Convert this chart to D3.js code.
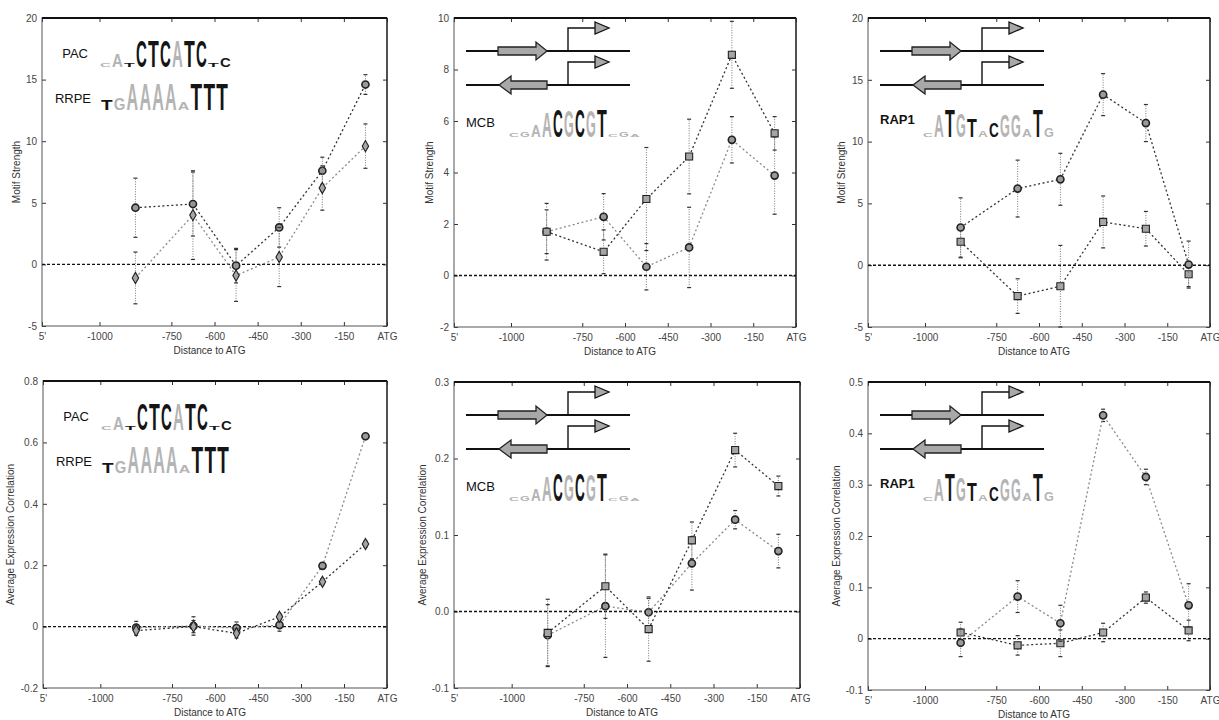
<!DOCTYPE html>
<html>
<head>
<meta charset="utf-8">
<script src="https://cdn.jsdelivr.net/npm/d3@7"></script>
<style>
    body { margin: 0; background: #fff; }
    svg { font-family: "Liberation Sans", Arial, sans-serif; }
    .axis text { fill: #444; font-size: 10px; }
    .axis line { stroke: #333; }
    .axis path { display: none; }
    .title { fill: #333; font-size: 10px; }
</style>
</head>
<body>
<svg id="fig" width="1219" height="720"></svg>
<script>
// Posições dos pontos (centro de cada janela de distância ao ATG)
const xPos = [-875, -675, -525, -375, -225, -75]
const xTicks = [-1200, -1000, -750, -600, -450, -300, -150, 0]
const xTickLabels = ["5'", "-1000", "-750", "-600", "-450", "-300", "-150", "ATG"]

// PAC / RRPE - força do motivo
const pacStrength = [4.6, 4.9, -0.1, 3.0, 7.6, 14.6]
const pacStrengthErr = [2.4, 2.6, 1.4, 1.6, 1.1, 0.8]
const rrpeStrength = [-1.1, 4.0, -0.9, 0.6, 6.2, 9.6]
const rrpeStrengthErr = [2.1, 3.6, 2.1, 2.4, 1.8, 1.8]

// MCB - força do motivo
const mcbSquareStrength = [1.7, 0.92, 2.97, 4.62, 8.57, 5.52]
const mcbSquareStrengthErr = [1.1, 0.85, 2.0, 1.45, 1.3, 0.65]
const mcbCircleStrength = [1.7, 2.28, 0.34, 1.09, 5.27, 3.88]
const mcbCircleStrengthErr = [0.85, 0.9, 0.9, 1.56, 0.9, 1.5]

// RAP1 - força do motivo
const rap1CircleStrength = [3.05, 6.2, 6.95, 13.8, 11.5, 0.05]
const rap1CircleStrengthErr = [2.4, 2.3, 2.1, 1.7, 1.5, 1.9]
const rap1SquareStrength = [1.9, -2.5, -1.7, 3.5, 2.95, -0.73]
const rap1SquareStrengthErr = [1.3, 1.4, 3.3, 2.1, 1.4, 1.0]

// PAC / RRPE - correlação média de expressão
const pacCorr = [-0.003, 0.002, -0.005, 0.005, 0.198, 0.62]
const pacCorrErr = [0.02, 0.03, 0.02, 0.02, 0.008, 0.008]
const rrpeCorr = [-0.013, 0.0, -0.022, 0.032, 0.146, 0.269]
const rrpeCorrErr = [0.015, 0.02, 0.015, 0.01, 0.01, 0.01]

// MCB - correlação média de expressão
const mcbSquareCorr = [-0.028, 0.033, -0.023, 0.093, 0.211, 0.164]
const mcbSquareCorrErr = [0.044, 0.042, 0.042, 0.024, 0.022, 0.013]
const mcbCircleCorr = [-0.031, 0.007, -0.001, 0.063, 0.12, 0.079]
const mcbCircleCorrErr = [0.04, 0.067, 0.018, 0.035, 0.012, 0.022]

// RAP1 - correlação média de expressão
const rap1CircleCorr = [-0.008, 0.082, 0.03, 0.435, 0.315, 0.065]
const rap1CircleCorrErr = [0.027, 0.031, 0.035, 0.012, 0.015, 0.042]
const rap1SquareCorr = [0.012, -0.013, -0.009, 0.012, 0.08, 0.016]
const rap1SquareCorrErr = [0.02, 0.019, 0.026, 0.018, 0.011, 0.02]

// Marcas dos eixos Y
const yTicksStrength = [-5, 0, 5, 10, 15, 20]
const yTicksMcbStrength = [-2, 0, 2, 4, 6, 8, 10]
const yTicksCorrPac = [-0.2, 0, 0.2, 0.4, 0.6, 0.8]
const yLabelsCorrPac = ["-0.2", "0", "0.2", "0.4", "0.6", "0.8"]
const yTicksCorrMcb = [-0.1, 0, 0.1, 0.2, 0.3]
const yLabelsCorrMcb = ["-0.1", "0.0", "0.1", "0.2", "0.3"]
const yTicksCorrRap1 = [-0.1, 0, 0.1, 0.2, 0.3, 0.4, 0.5]
const yLabelsCorrRap1 = ["-0.1", "0", "0.1", "0.2", "0.3", "0.4", "0.5"]

// Logos de sequência: [letra, altura relativa, tom]
const pacLogo = [["C", 0.12, "g"], ["A", 0.5, "g"], ["T", 0.12, "k"], ["C", 1, "k"], ["T", 1, "k"], ["C", 1, "k"],
    ["A", 1, "g"], ["T", 1, "k"], ["C", 1, "k"], ["T", 0.15, "k"], ["C", 0.35, "k"]]
const rrpeLogo = [["T", 0.4, "k"], ["G", 0.45, "g"], ["A", 1, "g"], ["A", 1, "g"], ["A", 1, "g"], ["A", 1, "g"],
    ["A", 0.3, "g"], ["T", 1, "k"], ["T", 1, "k"], ["T", 1, "k"]]
const mcbLogo = [["C", 0.12, "g"], ["G", 0.2, "g"], ["A", 0.4, "g"], ["A", 0.9, "g"], ["C", 1, "k"], ["G", 0.95, "g"],
    ["C", 1, "k"], ["G", 0.95, "g"], ["T", 1, "k"], ["C", 0.08, "g"], ["G", 0.2, "g"], ["A", 0.1, "g"]]
const rap1Logo = [["C", 0.15, "g"], ["A", 0.8, "g"], ["T", 1, "k"], ["G", 0.85, "g"], ["T", 0.65, "k"], ["A", 0.25, "g"],
    ["C", 0.5, "k"], ["G", 0.8, "g"], ["G", 0.8, "g"], ["A", 0.3, "g"], ["T", 1, "k"], ["G", 0.35, "g"]]

const panels = [
    { box: [42, 18, 387, 326], yDomain: [-5, 20], yTicks: yTicksStrength, yLabels: null, yTitle: "Motif Strength", titleGap: 22,
      inset: "pacRrpe",
      series: [
          { values: pacStrength, errors: pacStrengthErr, marker: "circle", dark: true },
          { values: rrpeStrength, errors: rrpeStrengthErr, marker: "diamond", dark: false }] },
    { box: [454, 18, 796, 327], yDomain: [-2, 10], yTicks: yTicksMcbStrength, yLabels: null, yTitle: "Motif Strength", titleGap: 21,
      inset: "mcb",
      series: [
          { values: mcbCircleStrength, errors: mcbCircleStrengthErr, marker: "circle", dark: false },
          { values: mcbSquareStrength, errors: mcbSquareStrengthErr, marker: "square", dark: true }] },
    { box: [868, 18, 1210, 327], yDomain: [-5, 20], yTicks: yTicksStrength, yLabels: null, yTitle: "Motif Strength", titleGap: 23,
      inset: "rap1",
      series: [
          { values: rap1SquareStrength, errors: rap1SquareStrengthErr, marker: "square", dark: true },
          { values: rap1CircleStrength, errors: rap1CircleStrengthErr, marker: "circle", dark: true }] },
    { box: [43, 381, 387, 688], yDomain: [-0.2, 0.8], yTicks: yTicksCorrPac, yLabels: yLabelsCorrPac, yTitle: "Average Expression Correlation", titleGap: 29,
      inset: "pacRrpe",
      series: [
          { values: pacCorr, errors: pacCorrErr, marker: "circle", dark: false },
          { values: rrpeCorr, errors: rrpeCorrErr, marker: "diamond", dark: true }] },
    { box: [454, 382, 800, 688], yDomain: [-0.1, 0.3], yTicks: yTicksCorrMcb, yLabels: yLabelsCorrMcb, yTitle: "Average Expression Correlation", titleGap: 28,
      inset: "mcb",
      series: [
          { values: mcbCircleCorr, errors: mcbCircleCorrErr, marker: "circle", dark: false },
          { values: mcbSquareCorr, errors: mcbSquareCorrErr, marker: "square", dark: true }] },
    { box: [868, 382, 1210, 690], yDomain: [-0.1, 0.5], yTicks: yTicksCorrRap1, yLabels: yLabelsCorrRap1, yTitle: "Average Expression Correlation", titleGap: 28,
      inset: "rap1",
      series: [
          { values: rap1SquareCorr, errors: rap1SquareCorrErr, marker: "square", dark: true },
          { values: rap1CircleCorr, errors: rap1CircleCorrErr, marker: "circle", dark: false }] }
]

const svg = d3.select("#fig")

// Desenha um logo de sequência: cada letra é escalada para a sua coluna
function drawLogo(g, letters, x0, baseline, colW, fullH) {
    const fs = 20
    letters.forEach(([ch, h, tone], i) => {
        const t = g.append("text")
            .attr("font-size", fs)
            .attr("font-weight", "bold")
            .attr("fill", tone === "k" ? "#151515" : "#b4b4b4")
            .text(ch)
        const w = t.node().getComputedTextLength()
        const sx = (colW - 1.2) / w
        const sy = (fullH * h) / (0.716 * fs)
        t.attr("transform", "translate(" + (x0 + i * colW) + "," + baseline + ") scale(" + sx + "," + sy + ")")
    })
}

// Desenha o esquema dos dois genes (sentido direto e reverso)
function drawGenes(g) {
    [33, 67].forEach((ly, k) => {
        g.append("line").attr("x1", 12).attr("x2", 176).attr("y1", ly).attr("y2", ly)
            .attr("stroke", "#111").attr("stroke-width", 2)
        // seta do motivo
        const arrow = k === 0
            ? [[44, ly - 4], [82, ly - 4], [82, ly - 9], [93, ly], [82, ly + 9], [82, ly + 4], [44, ly + 4]]
            : [[93, ly - 4], [57, ly - 4], [57, ly - 9], [45, ly], [57, ly + 9], [57, ly + 4], [93, ly + 4]]
        g.append("path").attr("d", d3.line()(arrow) + "Z")
            .attr("fill", "#a8a8a8").attr("stroke", "#222").attr("stroke-width", 1.3)
        // promotor
        g.append("path").attr("d", d3.line()([[114, ly], [114, ly - 23], [141, ly - 23]]))
            .attr("fill", "none").attr("stroke", "#111").attr("stroke-width", 1.4)
        g.append("path").attr("d", d3.line()([[141, ly - 29], [155, ly - 23], [141, ly - 17]]) + "Z")
            .attr("fill", "#a8a8a8").attr("stroke", "#111").attr("stroke-width", 1.3)
    })
}

function markerPath(type) {
    if (type === "square") return d3.symbol(d3.symbolSquare, 50)()
    if (type === "diamond") return d3.symbol(d3.symbolDiamond, 36)()
    return d3.symbol(d3.symbolCircle, 40)()
}

panels.forEach(p => {
    const [left, top, right, bottom] = p.box
    const width = right - left, height = bottom - top

    const g = svg.append("g").attr("transform", "translate(" + left + "," + top + ")")

    const x = d3.scaleLinear().domain([-1200, 0]).range([0, width])
    const y = d3.scaleLinear().domain(p.yDomain).range([height, 0])

    // Inserções (logos e esquemas)
    const inset = g.append("g")
    if (p.inset === "pacRrpe") {
        inset.append("text").attr("x", 46).attr("y", 40).attr("text-anchor", "end")
            .attr("font-size", 13).attr("fill", "#111").text("PAC")
        drawLogo(inset, pacLogo, 58, 49, 12, 27)
        inset.append("text").attr("x", 49).attr("y", 85).attr("text-anchor", "end")
            .attr("font-size", 13).attr("fill", "#111").text("RRPE")
        drawLogo(inset, rrpeLogo, 59, 92, 12.8, 27)
    } else {
        drawGenes(inset)
        const name = p.inset === "mcb" ? "MCB" : "RAP1"
        inset.append("text").attr("x", 12).attr("y", p.inset === "mcb" ? 109 : 106)
            .attr("font-size", 13).attr("font-weight", p.inset === "mcb" ? "normal" : "bold")
            .attr("fill", "#111").text(name)
        drawLogo(inset, p.inset === "mcb" ? mcbLogo : rap1Logo, 55, 119, 11, 28)
    }

    // Eixos com marcas para dentro
    g.append("g").attr("class", "axis")
        .attr("transform", "translate(0," + height + ")")
        .call(d3.axisBottom(x).tickValues(xTicks).tickFormat((d, i) => xTickLabels[i])
            .tickSizeInner(-4).tickSizeOuter(0).tickPadding(7))
    g.append("g").attr("class", "axis")
        .call(d3.axisTop(x).tickValues(xTicks).tickFormat("").tickSizeInner(-4).tickSizeOuter(0))
    g.append("g").attr("class", "axis")
        .call(d3.axisLeft(y).tickValues(p.yTicks)
            .tickFormat((d, i) => p.yLabels ? p.yLabels[i] : d)
            .tickSizeInner(-4).tickSizeOuter(0).tickPadding(5))
    g.append("g").attr("class", "axis")
        .attr("transform", "translate(" + width + ",0)")
        .call(d3.axisRight(y).tickValues(p.yTicks).tickFormat("").tickSizeInner(-4).tickSizeOuter(0))

    // Moldura
    g.append("rect").attr("width", width).attr("height", height)
        .attr("fill", "none").attr("stroke", "#555").attr("stroke-width", 1)
    g.append("line").attr("x1", 0).attr("x2", width).attr("y1", 0).attr("y2", 0)
        .attr("stroke", "#111").attr("stroke-width", 2)
    g.append("line").attr("x1", width).attr("x2", width).attr("y1", 0).attr("y2", height)
        .attr("stroke", "#222").attr("stroke-width", 1.3)

    // Linha de referência em zero
    g.append("line").attr("x1", 0).attr("x2", width).attr("y1", y(0)).attr("y2", y(0))
        .attr("stroke", "#111").attr("stroke-width", 1.4).attr("stroke-dasharray", "3,2")

    // Títulos dos eixos
    g.append("text").attr("class", "title")
        .attr("x", width / 2 - 5).attr("y", height + 28).attr("text-anchor", "middle")
        .text("Distance to ATG")
    g.append("text").attr("class", "title")
        .attr("transform", "translate(" + (-p.titleGap) + "," + (height / 2) + ") rotate(-90)")
        .attr("text-anchor", "middle")
        .text(p.yTitle)

    // Séries
    p.series.forEach(s => {
        const pts = xPos.map((d, i) => ({ x: d, v: s.values[i], e: s.errors[i] }))
        const col = s.dark ? "#333" : "#8a8a8a"

        // barras de erro
        const eb = g.append("g")
        pts.forEach(d => {
            eb.append("line").attr("x1", x(d.x)).attr("x2", x(d.x))
                .attr("y1", y(d.v - d.e)).attr("y2", y(d.v + d.e))
                .attr("stroke", "#777").attr("stroke-width", 1).attr("stroke-dasharray", "1,1.5")
            ;[d.v - d.e, d.v + d.e].forEach(c => {
                eb.append("line").attr("x1", x(d.x) - 2).attr("x2", x(d.x) + 2)
                    .attr("y1", y(c)).attr("y2", y(c))
                    .attr("stroke", "#333").attr("stroke-width", 1.2)
            })
        })

        g.append("path").datum(pts)
            .attr("fill", "none").attr("stroke", col).attr("stroke-width", 1.3)
            .attr("stroke-dasharray", "2,2.5")
            .attr("d", d3.line().x(d => x(d.x)).y(d => y(d.v)))

        g.append("g").selectAll("path").data(pts).join("path")
            .attr("transform", d => "translate(" + x(d.x) + "," + y(d.v) + ")")
            .attr("d", markerPath(s.marker))
            .attr("fill", s.marker === "circle" ? "#9a9a9a" : "#a5a5a5")
            .attr("stroke", "#222").attr("stroke-width", s.marker === "circle" ? 1.6 : 1.1)
    })
})
</script>
</body>
</html>
